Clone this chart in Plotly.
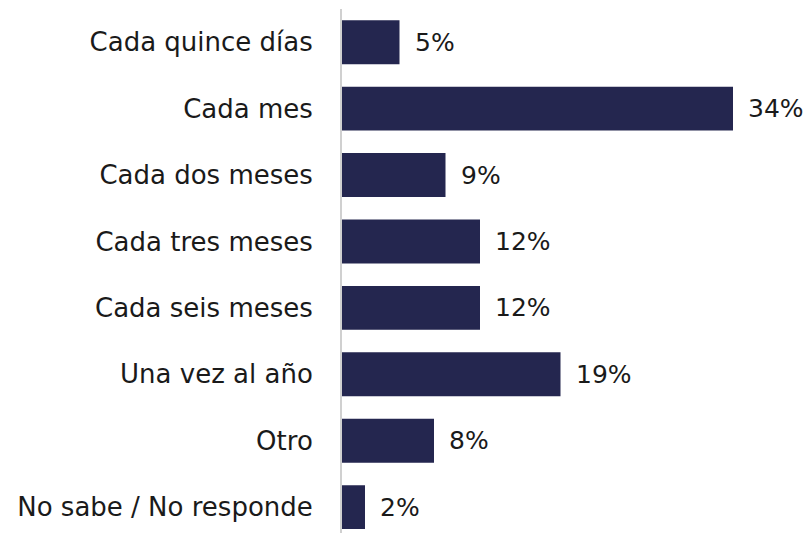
import plotly.graph_objects as go

categories = ["Cada quince días", "Cada mes", "Cada dos meses", "Cada tres meses",
              "Cada seis meses", "Una vez al año", "Otro", "No sabe / No responde"]
values = [5, 34, 9, 12, 12, 19, 8, 2]
labels = ["5%", "34%", "9%", "12%", "12%", "19%", "8%", "2%"]

BAR = "#24264F"
FONT = "DejaVu Sans"
FS = 26
FS_VAL = 25

fig = go.Figure(go.Bar(
    x=values, y=categories, orientation="h",
    marker=dict(color=BAR, line=dict(width=0)),
    hoverinfo="skip",
))

for c, v, t in zip(categories, values, labels):
    fig.add_annotation(x=v, y=c, text=t, showarrow=False, xanchor="left",
                       xshift=13, font=dict(family=FONT, size=FS_VAL, color="#1a1a1a"))

fig.update_layout(
    width=806, height=533,
    margin=dict(l=342, r=0, t=9, b=0),
    paper_bgcolor="white", plot_bgcolor="white",
    bargap=0.339,
    showlegend=False,
    font=dict(family=FONT, size=FS, color="#1a1a1a"),
)
fig.update_xaxes(range=[0, 464 / 11.5], visible=False)
fig.update_yaxes(type="category", categoryorder="array", categoryarray=categories,
                 range=[7.39, -0.5], showline=True, linecolor="#d0d0d0", linewidth=2,
                 showgrid=False, zeroline=False, ticks="", ticklabelstandoff=22,
                 automargin=False,
                 tickfont=dict(family=FONT, size=FS, color="#1a1a1a"))

fig.write_html("out.html", config={"displayModeBar": False},
               post_script="document.body.style.margin='0';document.body.style.overflow='hidden';")
